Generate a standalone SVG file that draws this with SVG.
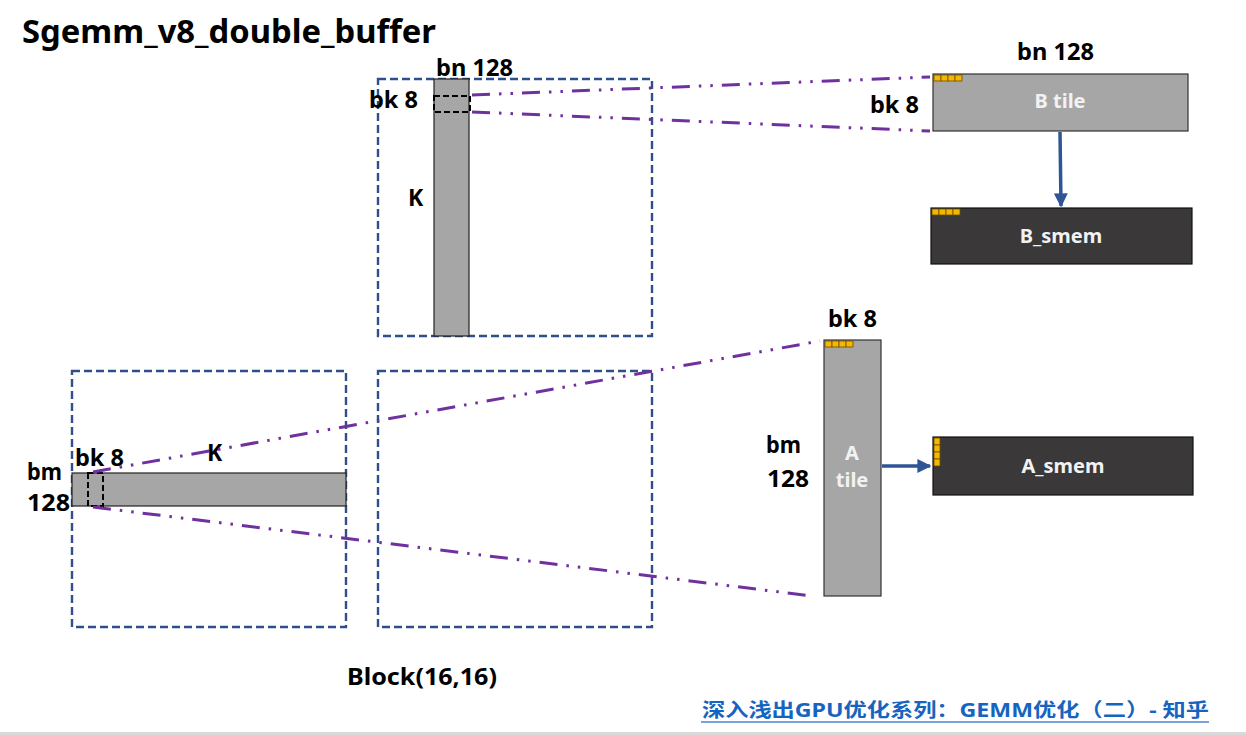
<svg xmlns="http://www.w3.org/2000/svg" width="1246" height="735" viewBox="0 0 1246 735">
<style>
text{font-family:"Noto Sans","Noto Sans CJK SC",sans-serif;font-weight:bold;fill:#000}
.lbl{font-size:23px}
.blk{fill:none;stroke:#2f4f8a;stroke-width:2.4;stroke-dasharray:8 4}
.mat{fill:#a6a6a6;stroke:#222;stroke-width:1.2}
.sel{fill:none;stroke:#000;stroke-width:2;stroke-dasharray:6 3}
.proj{fill:none;stroke:#7030a0;stroke-width:3;stroke-dasharray:18 9 2.5 9 2.5 9}
.smem{fill:#3a3838;stroke:#111;stroke-width:1.2}
.tile{fill:#a6a6a6;stroke:#333;stroke-width:1.2}
.yl{fill:#f5b800;stroke:#6b4e00;stroke-width:0.8}
.wt{fill:#f2f2f2;font-size:20px}
.arr{stroke:#2f5597;stroke-width:3.5;fill:none}
</style>
<defs>
<marker id="ah" viewBox="0 0 10 10" refX="9" refY="5" markerWidth="4" markerHeight="4" markerUnits="strokeWidth" orient="auto">
<path d="M0,0 L10,5 L0,10 z" fill="#2f5597"/>
</marker>
</defs>
<rect x="0" y="0" width="1246" height="735" fill="#fff"/>
<rect x="0" y="732" width="1246" height="3" fill="#d9d9d9"/>
<text x="22" y="43" font-size="32" textLength="414" lengthAdjust="spacingAndGlyphs">Sgemm_v8_double_buffer</text>

<g id="blockB">
<rect class="blk" x="378" y="79" width="274" height="257"/>
<rect class="mat" x="434" y="79" width="35" height="257"/>
<rect class="sel" x="434" y="96" width="36" height="16"/>
<text class="lbl" x="436" y="76" textLength="77" lengthAdjust="spacingAndGlyphs">bn 128</text>
<text class="lbl" x="369" y="108" textLength="49" lengthAdjust="spacingAndGlyphs">bk 8</text>
<text class="lbl" x="408" y="206">K</text>
</g>

<g id="blockA">
<rect class="blk" x="72" y="371" width="274" height="256"/>
<rect class="mat" x="72" y="473" width="274" height="33"/>
<rect class="sel" x="88" y="473" width="15" height="33"/>
<text class="lbl" x="75" y="466" textLength="49" lengthAdjust="spacingAndGlyphs">bk 8</text>
<text class="lbl" x="27" y="480" textLength="35" lengthAdjust="spacingAndGlyphs">bm</text>
<text class="lbl" x="27" y="511" textLength="43" lengthAdjust="spacingAndGlyphs">128</text>
<text class="lbl" x="207" y="461">K</text>
</g>

<g id="blockC">
<rect class="blk" x="378" y="371" width="274" height="256"/>
</g>

<g id="btile">
<rect class="tile" x="933" y="74" width="255" height="57"/>
<rect class="yl" x="934" y="75" width="7" height="6"/>
<rect class="yl" x="941" y="75" width="7" height="6"/>
<rect class="yl" x="948" y="75" width="7" height="6"/>
<rect class="yl" x="955" y="75" width="7" height="6"/>
<text class="wt" x="1060" y="108" text-anchor="middle">B tile</text>
<text class="lbl" x="1017" y="60" textLength="77" lengthAdjust="spacingAndGlyphs">bn 128</text>
<text class="lbl" x="870" y="113" textLength="49" lengthAdjust="spacingAndGlyphs">bk 8</text>
</g>

<g id="bsmem">
<rect class="smem" x="931" y="208" width="261" height="56"/>
<rect class="yl" x="932" y="209" width="7" height="6"/>
<rect class="yl" x="939" y="209" width="7" height="6"/>
<rect class="yl" x="946" y="209" width="7" height="6"/>
<rect class="yl" x="953" y="209" width="7" height="6"/>
<text class="wt" x="1061" y="243" text-anchor="middle">B_smem</text>
</g>

<g id="atile">
<rect class="tile" x="824" y="340" width="57" height="256"/>
<rect class="yl" x="825" y="341" width="7" height="6"/>
<rect class="yl" x="832" y="341" width="7" height="6"/>
<rect class="yl" x="839" y="341" width="7" height="6"/>
<rect class="yl" x="846" y="341" width="7" height="6"/>
<text class="wt" x="852" y="460" text-anchor="middle">A</text>
<text class="wt" x="852" y="487" text-anchor="middle">tile</text>
<text class="lbl" x="828" y="327" textLength="49" lengthAdjust="spacingAndGlyphs">bk 8</text>
<text class="lbl" x="766" y="453" textLength="35" lengthAdjust="spacingAndGlyphs">bm</text>
<text class="lbl" x="767" y="487" textLength="42" lengthAdjust="spacingAndGlyphs">128</text>
</g>

<g id="asmem">
<rect class="smem" x="933" y="437" width="260" height="58"/>
<rect class="yl" x="934" y="438" width="6" height="7"/>
<rect class="yl" x="934" y="445" width="6" height="7"/>
<rect class="yl" x="934" y="452" width="6" height="7"/>
<rect class="yl" x="934" y="459" width="6" height="7"/>
<text class="wt" x="1063" y="473" text-anchor="middle">A_smem</text>
</g>

<g id="connectors">
<line class="proj" x1="472" y1="95" x2="930" y2="77"/>
<line class="proj" x1="472" y1="112" x2="930" y2="131"/>
<line class="proj" x1="93" y1="472" x2="820" y2="341"/>
<line class="proj" x1="93" y1="507" x2="812" y2="596"/>
<line class="arr" x1="1060" y1="132" x2="1061" y2="206" marker-end="url(#ah)"/>
<line class="arr" x1="882" y1="466" x2="930" y2="466" marker-end="url(#ah)"/>
</g>

<text x="347" y="685" font-size="23" textLength="150" lengthAdjust="spacingAndGlyphs">Block(16,16)</text>
<g id="footer">
<text x="702" y="717" font-size="19" style="fill:#1565c0" textLength="507" lengthAdjust="spacingAndGlyphs">深入浅出GPU优化系列：GEMM优化（二）- 知乎</text>
<line x1="701" y1="722" x2="1209" y2="722" stroke="#4a86c8" stroke-width="1.5"/>
</g>
</svg>
